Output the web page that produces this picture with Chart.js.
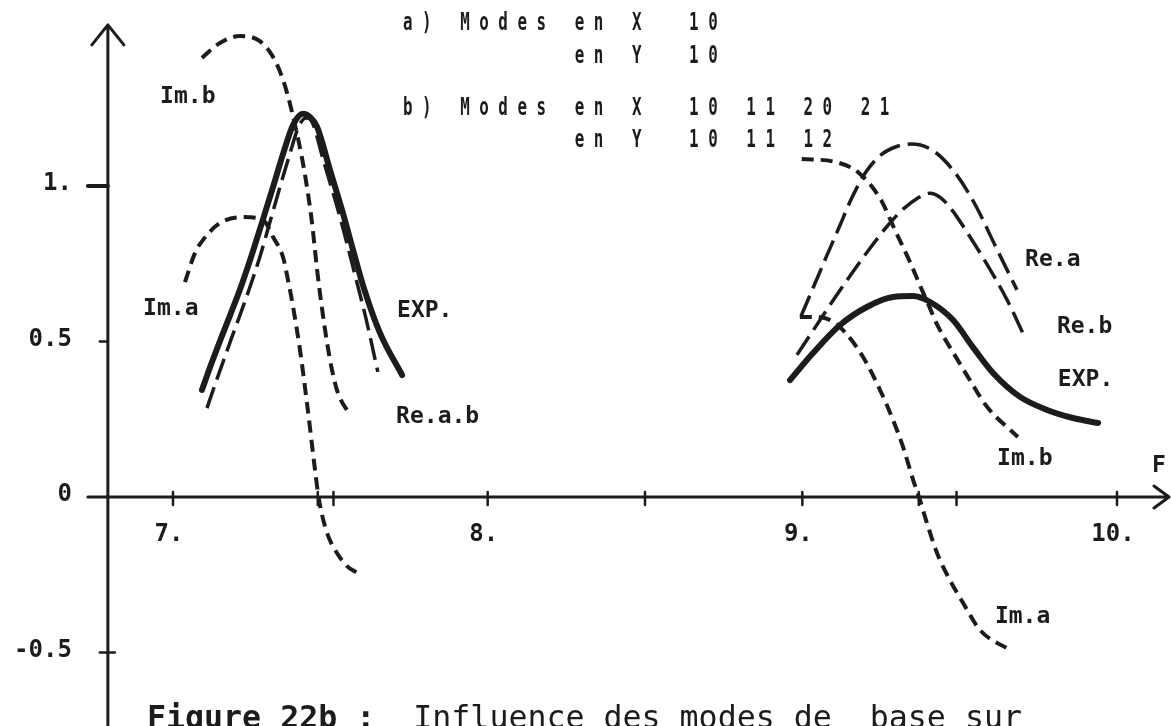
<!DOCTYPE html>
<html>
<head>
<meta charset="utf-8">
<title>Figure 22b</title>
<script src="https://cdn.jsdelivr.net/npm/chart.js@4/dist/chart.umd.min.js"></script>
<style>
  html, body { margin: 0; padding: 0; background: #fff; }
</style>
</head>
<body>
<canvas id="modesChart" width="1171" height="726"></canvas>
<script>
// axis ranges (frequency F, amplitude)
const F_RANGE = [6.4502, 10.1716];
const A_RANGE = [-0.7363, 1.5981];
const Y_AXIS_F = 6.793;
const Y_AXIS_TOP = 1.518;

const X_TICKS = [7, 8, 9, 10];
const X_TICK_LABELS = ['7.', '8.', '9.', '10.'];
const X_MARKS = [7.46, 7.51, 8.5, 9.37, 9.49];
const Y_TICKS = [1, 0.5, 0, -0.5];
const Y_TICK_LABELS = ['1.', '0.5', '0', '-0.5'];

// first resonance, around F = 7.4
const F_EXP_1 = [7.092, 7.118, 7.159, 7.213, 7.254, 7.286, 7.318, 7.350, 7.381, 7.413, 7.435, 7.458, 7.499, 7.540, 7.572, 7.604, 7.658, 7.728];
const EXP_1   = [0.344, 0.418, 0.527, 0.668, 0.790, 0.893, 0.997, 1.104, 1.195, 1.232, 1.222, 1.190, 1.051, 0.913, 0.795, 0.680, 0.527, 0.392];

const F_RE_1 = [7.108, 7.133, 7.184, 7.238, 7.276, 7.308, 7.340, 7.372, 7.400, 7.423, 7.442, 7.480, 7.521, 7.553, 7.582, 7.613, 7.651];
const RE_1   = [0.286, 0.360, 0.505, 0.656, 0.772, 0.884, 0.997, 1.106, 1.193, 1.219, 1.206, 1.075, 0.935, 0.815, 0.700, 0.575, 0.402];

const F_IMA_1 = [7.038, 7.070, 7.095, 7.149, 7.222, 7.286, 7.318, 7.350, 7.365, 7.381, 7.404, 7.426, 7.451, 7.461, 7.473, 7.493, 7.521, 7.553, 7.585];
const IMA_1   = [0.691, 0.785, 0.826, 0.881, 0.900, 0.891, 0.836, 0.770, 0.700, 0.615, 0.470, 0.300, 0.090, 0.010, -0.055, -0.125, -0.180, -0.222, -0.244];

const F_IMB_1 = [7.092, 7.149, 7.213, 7.276, 7.318, 7.346, 7.365, 7.388, 7.410, 7.426, 7.442, 7.450, 7.458, 7.473, 7.489, 7.505, 7.524, 7.562];
const IMB_1   = [1.412, 1.460, 1.482, 1.466, 1.415, 1.352, 1.290, 1.195, 1.090, 0.995, 0.880, 0.805, 0.730, 0.610, 0.500, 0.410, 0.335, 0.264];

// second resonance, around F = 9.35
const F_EXP_2 = [8.961, 9.034, 9.120, 9.205, 9.288, 9.352, 9.406, 9.479, 9.542, 9.606, 9.692, 9.778, 9.860, 9.940];
const EXP_2   = [0.376, 0.463, 0.553, 0.611, 0.643, 0.646, 0.627, 0.569, 0.482, 0.399, 0.322, 0.280, 0.254, 0.238];

const F_REA_2 = [8.996, 9.034, 9.076, 9.119, 9.154, 9.202, 9.250, 9.300, 9.348, 9.418, 9.491, 9.552, 9.612, 9.682];
const REA_2   = [0.582, 0.672, 0.772, 0.872, 0.955, 1.045, 1.100, 1.127, 1.135, 1.112, 1.035, 0.935, 0.810, 0.666];

const F_REB_2 = [8.983, 9.034, 9.062, 9.097, 9.151, 9.215, 9.275, 9.323, 9.365, 9.405, 9.440, 9.480, 9.523, 9.587, 9.650, 9.707];
const REB_2   = [0.457, 0.535, 0.578, 0.631, 0.710, 0.800, 0.877, 0.928, 0.960, 0.977, 0.962, 0.917, 0.852, 0.748, 0.635, 0.514];

const F_IMA_2 = [8.992, 9.040, 9.088, 9.129, 9.193, 9.247, 9.288, 9.320, 9.352, 9.374, 9.396, 9.428, 9.469, 9.511, 9.565, 9.660];
const IMA_2   = [0.579, 0.579, 0.569, 0.537, 0.450, 0.344, 0.248, 0.161, 0.055, -0.010, -0.084, -0.180, -0.267, -0.341, -0.428, -0.492];

const F_IMB_2 = [8.998, 9.106, 9.180, 9.250, 9.294, 9.342, 9.380, 9.396, 9.428, 9.491, 9.533, 9.587, 9.685];
const IMB_2   = [1.087, 1.077, 1.042, 0.955, 0.859, 0.756, 0.666, 0.630, 0.555, 0.445, 0.375, 0.290, 0.193];

const CURVE_LABELS = [
    { text: 'Im.b',   f: 6.959, a: 1.267 },
    { text: 'Im.a',   f: 6.905, a: 0.585 },
    { text: 'EXP.',   f: 7.712, a: 0.579 },
    { text: 'Re.a.b', f: 7.709, a: 0.238 },
    { text: 'Re.a',   f: 9.708, a: 0.743 },
    { text: 'Re.b',   f: 9.809, a: 0.527 },
    { text: 'EXP.',   f: 9.812, a: 0.357 },
    { text: 'Im.b',   f: 9.619, a: 0.103 },
    { text: 'Im.a',   f: 9.612, a: -0.405 },
    { text: 'F',      f: 10.111, a: 0.080 }
];

const HEADER_LINES = [
    'a )   M o d e s   e n   X     1 0',
    '                  e n   Y     1 0',
    'b )   M o d e s   e n   X     1 0   1 1   2 0   2 1',
    '                  e n   Y     1 0   1 1   1 2'
];
const HEADER_BASELINES = [30, 63, 115, 147];

const CAPTION_BOLD = 'Figure 22b :';
const CAPTION_TEXT = '  Influence des modes de  base sur';

const INK = '#1c1c1c';
const MONO = '"DejaVu Sans Mono", "Liberation Mono", monospace';

const SOLID = { borderWidth: 6, borderDash: [], borderCapStyle: 'round' };
const LONG_DASH = { borderWidth: 3.5, borderDash: [22, 8] };
const SHORT_DASH = { borderWidth: 4, borderDash: [12, 7] };

function curve(label, fs, values, style) {
    return Object.assign({
        label: label,
        data: fs.map((f, i) => ({ x: f, y: values[i] })),
        borderColor: INK,
        pointRadius: 0,
        cubicInterpolationMode: 'monotone',
        fill: false
    }, style);
}

const sketchAxes = {
    id: 'sketchAxes',
    beforeDatasetsDraw(chart) {
        const { ctx, width, height } = chart;
        const xs = chart.scales.x, ys = chart.scales.y;
        const ax = xs.getPixelForValue(Y_AXIS_F);
        const ay = ys.getPixelForValue(0);
        ctx.save();
        ctx.strokeStyle = INK;
        ctx.fillStyle = INK;
        ctx.lineCap = 'round';
        ctx.lineJoin = 'round';
        ctx.lineWidth = 3;

        // F axis with open arrow head
        const tipX = width - 2;
        ctx.beginPath();
        ctx.moveTo(ax - 20, ay);
        ctx.lineTo(tipX, ay);
        ctx.moveTo(tipX - 15, ay - 11);
        ctx.lineTo(tipX, ay);
        ctx.lineTo(tipX - 15, ay + 11);
        ctx.stroke();

        // vertical axis
        const tipY = ys.getPixelForValue(Y_AXIS_TOP);
        ctx.beginPath();
        ctx.moveTo(ax, height);
        ctx.lineTo(ax, tipY);
        ctx.moveTo(ax - 16, tipY + 20);
        ctx.lineTo(ax, tipY);
        ctx.lineTo(ax + 16, tipY + 20);
        ctx.stroke();

        ctx.lineWidth = 2.5;
        X_TICKS.concat(X_MARKS).forEach(f => {
            const px = xs.getPixelForValue(f);
            ctx.beginPath();
            ctx.moveTo(px, ay - 5);
            ctx.lineTo(px, ay + 8);
            ctx.stroke();
        });
        Y_TICKS.forEach(v => {
            if (v === 0) return;
            const py = ys.getPixelForValue(v);
            const len = Number.isInteger(v) ? 20 : 8;
            ctx.lineWidth = Number.isInteger(v) ? 4 : 2.5;
            ctx.beginPath();
            ctx.moveTo(ax - len, py);
            ctx.lineTo(ax + (v < 0 ? 7 : 0), py);
            ctx.stroke();
        });

        ctx.font = 'bold 24px ' + MONO;
        ctx.textBaseline = 'middle';
        ctx.textAlign = 'center';
        X_TICKS.forEach((f, i) => ctx.fillText(X_TICK_LABELS[i], xs.getPixelForValue(f) - 4, ay + 38));
        ctx.textAlign = 'right';
        Y_TICKS.forEach((v, i) => ctx.fillText(Y_TICK_LABELS[i], ax - 36, ys.getPixelForValue(v) - 2));
        ctx.restore();
    },
    afterDatasetsDraw(chart) {
        const { ctx } = chart;
        const xs = chart.scales.x, ys = chart.scales.y;
        ctx.save();
        ctx.fillStyle = INK;
        ctx.textAlign = 'left';
        ctx.textBaseline = 'alphabetic';

        ctx.font = 'bold 23px ' + MONO;
        CURVE_LABELS.forEach(l => ctx.fillText(l.text, xs.getPixelForValue(l.f), ys.getPixelForValue(l.a)));

        // mode list, narrow printer lettering
        ctx.font = 'bold 24px ' + MONO;
        HEADER_LINES.forEach((line, i) => {
            ctx.save();
            ctx.translate(403, HEADER_BASELINES[i]);
            ctx.scale(0.66, 1);
            ctx.fillText(line, 0, 0);
            ctx.restore();
        });

        // caption along the bottom edge
        ctx.font = 'bold 31.6px ' + MONO;
        ctx.fillText(CAPTION_BOLD, 147, 728);
        const w = ctx.measureText(CAPTION_BOLD).width;
        ctx.font = '31.6px ' + MONO;
        ctx.fillText(CAPTION_TEXT, 147 + w, 728);
        ctx.restore();
    }
};

new Chart(document.getElementById('modesChart'), {
    type: 'line',
    data: {
        datasets: [
            curve('EXP', F_EXP_1, EXP_1, SOLID),
            curve('Re.a.b', F_RE_1, RE_1, LONG_DASH),
            curve('Im.a', F_IMA_1, IMA_1, SHORT_DASH),
            curve('Im.b', F_IMB_1, IMB_1, SHORT_DASH),
            curve('EXP', F_EXP_2, EXP_2, SOLID),
            curve('Re.a', F_REA_2, REA_2, LONG_DASH),
            curve('Re.b', F_REB_2, REB_2, LONG_DASH),
            curve('Im.a', F_IMA_2, IMA_2, SHORT_DASH),
            curve('Im.b', F_IMB_2, IMB_2, SHORT_DASH)
        ]
    },
    options: {
        responsive: false,
        animation: false,
        layout: { padding: 0 },
        scales: {
            x: { type: 'linear', min: F_RANGE[0], max: F_RANGE[1], display: false },
            y: { type: 'linear', min: A_RANGE[0], max: A_RANGE[1], display: false }
        },
        plugins: {
            legend: { display: false },
            tooltip: { enabled: false }
        }
    },
    plugins: [sketchAxes]
});
</script>
</body>
</html>
